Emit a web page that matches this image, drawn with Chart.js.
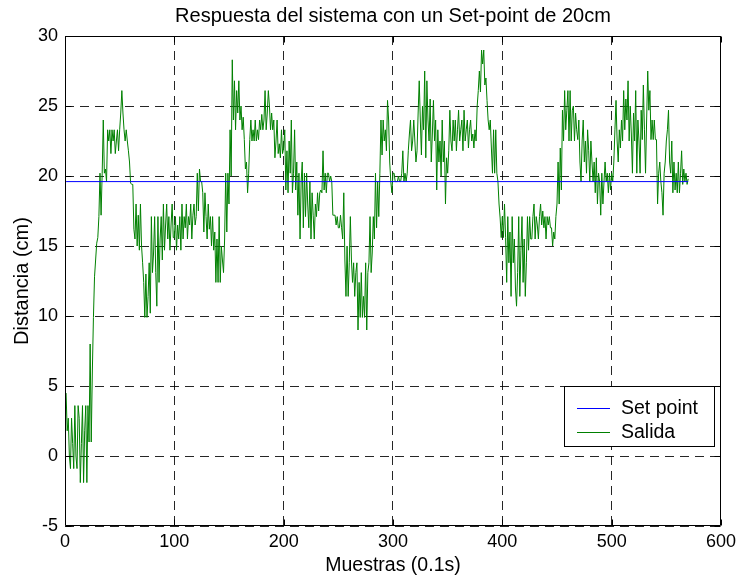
<!DOCTYPE html>
<html>
<head>
<meta charset="utf-8">
<script src="https://cdn.jsdelivr.net/npm/chart.js@4/dist/chart.umd.min.js"></script>
<style>
  html, body { margin: 0; padding: 0; background: #fff; }
  #wrap { width: 741px; height: 580px; position: relative; }
</style>
</head>
<body>
<div id="wrap"><canvas id="c" width="741" height="580"></canvas></div>
<script>
// ---------- data ----------
const chartTitle = 'Respuesta del sistema con un Set-point de 20cm';
const xTitle = 'Muestras (0.1s)';
const yTitle = 'Distancia (cm)';
const seriesNames = ['Set point', 'Salida'];
const xTicks = [0, 100, 200, 300, 400, 500, 600];
const yTicks = [-5, 0, 5, 10, 15, 20, 25, 30];
const setPointValue = 19.6;
const setPointRange = [1, 570];
const salida = [
  4.5, 1.8, 2.7, 0, -0.9, 2.7, 0.9, -0.9, 3.6, 0,
  -0.9, 3.6, 2.7, -1.9, 0.9, 3.6, -1.9, 1.8, 3.6, -1.9,
  3.6, 1.0, 8.0, 1.0, 6.0, 9.9, 12.8, 14.0, 15.2, 15.6,
  17.1, 20.2, 17.2, 20.2, 24.0, 20.2, 20.5, 19.6, 23.3, 22.5,
  23.3, 21.6, 23.3, 22.5, 23.3, 21.6, 22.5, 23.3, 21.8, 23.3,
  24.5, 26.1, 24.5, 23.3, 22.5, 23.3, 22.5, 21.8, 21.0, 19.5,
  19.4, 19.4, 16.2, 15.5, 18.0, 15.0, 17.2, 14.7, 18.0, 15.0,
  13.8, 12.4, 9.9, 13.0, 9.9, 11.4, 13.8, 10.2, 17.1, 13.1,
  14.5, 17.1, 13.1, 10.7, 17.1, 12.4, 15.5, 17.1, 14.0, 18.0,
  14.7, 16.5, 18.0, 15.5, 17.1, 14.7, 16.5, 18.0, 15.6, 15.6,
  17.1, 14.7, 16.5, 15.5, 17.1, 14.7, 18.0, 15.5, 17.1, 16.3,
  18.0, 15.5, 17.1, 16.5, 18.0, 15.5, 17.2, 18.0, 16.5, 17.1,
  20.2, 17.5, 20.5, 19.6, 19.6, 18.8, 16.0, 18.8, 17.1, 15.5,
  18.0, 16.2, 17.1, 15.0, 17.1, 14.7, 16.0, 12.4, 15.5, 12.4,
  17.1, 12.4, 15.0, 14.0, 13.1, 15.5, 20.2, 16.0, 20.2, 18.0,
  23.3, 20.0, 28.3, 24.0, 26.8, 23.3, 26.1, 24.5, 26.8, 24.0,
  25.0, 23.3, 24.2, 22.6, 20.5, 21.0, 18.8, 20.2, 22.6, 24.0,
  22.5, 23.3, 22.5, 24.0, 22.5, 23.3, 22.6, 24.0, 23.3, 24.4,
  23.3, 24.0, 26.1, 23.3, 24.5, 26.1, 25.0, 23.3, 24.5, 23.3,
  24.0, 21.3, 22.5, 24.0, 21.6, 22.3, 21.3, 23.3, 21.6, 22.0,
  23.3, 19.0, 21.8, 18.8, 22.5, 20.2, 24.0, 18.8, 20.2, 23.3,
  19.0, 21.0, 17.2, 20.2, 15.5, 19.6, 21.0, 16.3, 20.2, 17.1,
  20.2, 18.0, 16.3, 19.6, 15.5, 18.8, 17.2, 15.5, 18.0, 17.1,
  18.8, 17.5, 18.8, 19.0, 18.8, 21.8, 19.0, 20.2, 18.8, 20.2,
  20.2, 19.6, 20.0, 19.6, 17.2, 17.2, 17.2, 16.5, 17.1, 16.3,
  16.3, 17.2, 16.3, 15.5, 18.8, 14.0, 11.4, 15.0, 11.4, 13.8,
  17.1, 14.0, 12.4, 13.8, 11.4, 13.1, 13.8, 9.0, 12.4, 9.9,
  13.1, 9.9, 11.4, 9.9, 13.8, 9.0, 13.1, 13.8, 17.1, 13.1,
  14.5, 17.1, 15.5, 20.2, 16.3, 19.6, 17.1, 20.2, 24.0, 21.5,
  24.0, 22.5, 23.3, 21.8, 25.4, 24.0, 21.0, 19.6, 18.8, 20.2,
  20.2, 19.6, 19.6, 19.6, 20.0, 19.6, 19.6, 20.2, 21.8, 19.6,
  20.2, 19.6, 20.2, 21.8, 23.0, 24.0, 21.8, 22.5, 24.0, 22.5,
  21.0, 21.8, 24.5, 26.8, 24.0, 21.5, 25.0, 23.3, 27.5, 21.3,
  26.8, 24.0, 22.5, 25.5, 21.0, 23.0, 25.4, 22.5, 24.0, 19.0,
  23.3, 21.0, 22.5, 20.0, 24.0, 21.0, 22.5, 18.0, 21.3, 20.2,
  21.8, 24.7, 22.5, 21.8, 24.0, 22.5, 24.0, 21.8, 23.3, 24.7,
  22.5, 23.3, 24.0, 21.8, 24.7, 22.5, 23.3, 24.0, 22.0, 23.3,
  24.0, 22.5, 23.0, 22.0, 23.3, 22.5, 25.0, 26.1, 27.5, 26.0,
  29.0, 28.0, 29.0, 26.5, 27.0, 25.4, 24.0, 23.3, 24.0, 22.0,
  20.2, 23.3, 20.2, 23.3, 20.2, 19.6, 18.0, 17.0, 15.6, 17.1,
  15.6, 18.0, 15.6, 12.4, 17.1, 13.8, 16.0, 11.4, 17.1, 13.8,
  15.5, 12.0, 10.7, 13.1, 17.1, 11.4, 14.7, 17.1, 12.4, 15.5,
  11.4, 13.8, 17.1, 14.7, 17.1, 15.5, 15.5, 17.1, 18.0, 15.5,
  17.1, 16.5, 15.5, 17.1, 18.0, 16.5, 17.5, 16.3, 17.1, 15.5,
  17.1, 16.5, 17.1, 16.3, 16.3, 15.0, 16.0, 15.5, 17.1, 18.0,
  21.0, 18.0, 22.0, 19.0, 24.7, 22.5, 26.1, 23.3, 24.7, 26.1,
  22.5, 26.1, 22.5, 24.7, 25.0, 22.5, 24.5, 23.3, 22.6, 24.0,
  21.0, 19.6, 22.5, 24.0, 21.0, 22.5, 20.2, 23.3, 21.8, 19.6,
  22.5, 21.0, 19.6, 21.0, 18.8, 21.3, 18.0, 20.2, 19.6, 17.2,
  20.2, 18.0, 19.6, 21.0, 19.6, 20.2, 18.8, 20.2, 19.0, 20.2,
  19.6, 21.0, 23.3, 25.4, 22.5, 21.0, 23.3, 22.0, 24.0, 22.5,
  26.1, 23.3, 25.5, 24.0, 26.8, 22.5, 25.0, 23.0, 20.2, 24.5,
  22.5, 26.1, 20.2, 24.0, 22.5, 20.2, 24.7, 22.6, 26.5, 23.3,
  20.2, 24.0, 27.5, 24.7, 26.1, 22.6, 24.0, 22.6, 24.0, 22.6,
  22.6, 18.0, 20.2, 21.0, 19.6, 18.8, 17.2, 20.2, 21.0, 22.5,
  23.3, 24.7, 21.0, 20.2, 22.5, 18.8, 21.0, 19.0, 20.2, 18.8,
  21.0, 18.8, 20.2, 21.8, 19.4, 20.5, 19.6, 20.2, 19.4, 19.8
];
const colors = { setPoint: '#0000ff', salida: '#008000' };

// ---------- build ----------
const salidaPts = salida.map((v, i) => ({ x: i + 1, y: v }));
const setPts = setPointRange.map(x => ({ x: x, y: setPointValue }));
const FONT = 'Liberation Sans, Arial, Helvetica, sans-serif';

const frame = {
  id: 'frame',
  afterDatasetsDraw(chart) {
    const { ctx, chartArea: a, scales: { x, y } } = chart;
    ctx.save();
    ctx.strokeStyle = '#000';
    ctx.lineWidth = 1;
    ctx.beginPath();
    const L = Math.round(a.left) + 0.5, R = Math.round(a.right) - 0.5;
    const T = Math.round(a.top) + 0.5, B = Math.round(a.bottom) - 0.5;
    ctx.rect(L, T, R - L, B - T);
    const tl = 6;
    xTicks.forEach(v => {
      const px = Math.round(x.getPixelForValue(v)) + 0.5;
      ctx.moveTo(px, B); ctx.lineTo(px, B - tl);
      ctx.moveTo(px, T); ctx.lineTo(px, T + tl);
    });
    yTicks.forEach(v => {
      const py = Math.round(y.getPixelForValue(v)) + 0.5;
      ctx.moveTo(L, py); ctx.lineTo(L + tl, py);
      ctx.moveTo(R, py); ctx.lineTo(R - tl, py);
    });
    ctx.stroke();

    // legend box
    const bx = 564.5, by = 386.5, bw = 150, bh = 60;
    ctx.fillStyle = '#fff';
    ctx.fillRect(bx, by, bw, bh);
    ctx.strokeRect(bx, by, bw, bh);
    ctx.font = '19.5px ' + FONT;
    ctx.textBaseline = 'middle';
    ctx.textAlign = 'left';
    chart.data.datasets.forEach((ds, i) => {
      const ly = by + 21.5 + i * 24;
      ctx.strokeStyle = ds.borderColor;
      ctx.beginPath();
      ctx.moveTo(577, Math.round(ly) + 0.5);
      ctx.lineTo(610, Math.round(ly) + 0.5);
      ctx.stroke();
      ctx.fillStyle = '#000';
      ctx.fillText(ds.label, 621, ly + 1);
    });
    ctx.restore();
  }
};

new Chart(document.getElementById('c'), {
  type: 'line',
  data: {
    datasets: [
      { label: seriesNames[0], data: setPts, borderColor: colors.setPoint, borderWidth: 1, pointRadius: 0, tension: 0 },
      { label: seriesNames[1], data: salidaPts, borderColor: colors.salida, borderWidth: 1, pointRadius: 0, tension: 0 }
    ]
  },
  options: {
    responsive: false,
    animation: false,
    layout: { padding: { left: 0, right: 19, top: 0, bottom: 0 } },
    plugins: {
      legend: { display: false },
      tooltip: { enabled: false },
      title: {
        display: true, text: chartTitle, color: '#000', fullSize: false,
        font: { family: FONT, size: 20, weight: 'normal' },
        padding: { top: 4, bottom: 8 }
      }
    },
    scales: {
      x: {
        type: 'linear', min: 0, max: 600,
        afterBuildTicks: s => { s.ticks = xTicks.map(v => ({ value: v })); },
        afterFit: s => { s.height = 54; },
        grid: { color: 'rgba(0,0,0,0.85)', lineWidth: 1, drawTicks: false },
        border: { display: false, dash: [9, 6] },
        ticks: { color: '#000', padding: 5, maxRotation: 0, font: { family: FONT, size: 18 } },
        title: { display: true, text: xTitle, color: '#000', font: { family: FONT, size: 19.5 }, padding: { top: 0, bottom: 3 } }
      },
      y: {
        type: 'linear', min: -5, max: 30,
        afterBuildTicks: s => { s.ticks = yTicks.map(v => ({ value: v })); },
        afterFit: s => { s.width = 65; },
        grid: { color: 'rgba(0,0,0,0.85)', lineWidth: 1, drawTicks: false },
        border: { display: false, dash: [9, 6] },
        ticks: { color: '#000', padding: 7, font: { family: FONT, size: 18 } },
        title: { display: true, text: yTitle, color: '#000', font: { family: FONT, size: 20 }, padding: { top: 10, bottom: 0 } }
      }
    }
  },
  plugins: [frame]
});
</script>
</body>
</html>
